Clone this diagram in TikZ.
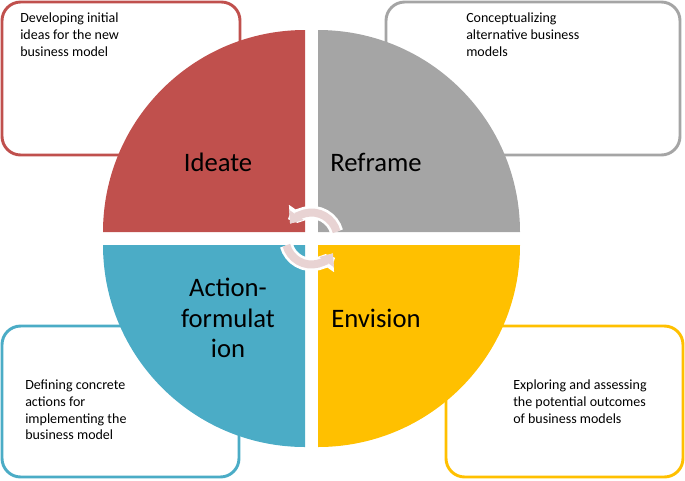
\documentclass[tikz,border=0pt]{standalone}
\usepackage{fontspec}
\setmainfont{Carlito}
\usetikzlibrary{arrows.meta}
\definecolor{cred}{HTML}{C0504D}
\definecolor{cgray}{HTML}{A5A5A5}
\definecolor{cblue}{HTML}{4BACC6}
\definecolor{cyel}{HTML}{FFC000}
\definecolor{carr}{HTML}{E8D3D3}
\begin{document}
\begin{tikzpicture}[x=0.75pt,y=-0.75pt,
  boxst/.style={line width=2.2pt,rounded corners=14pt,fill=white},
  desc/.style={align=left,font=\fontsize{10.5pt}{12.5pt}\selectfont,anchor=north west,inner sep=0pt},
  big/.style={font=\fontsize{20pt}{23pt}\selectfont,align=center},
  arr/.style={line width=6pt,-{Triangle[width=13pt,length=8pt]}}]
\useasboundingbox (0,0) rectangle (685,480);
\draw[boxst,draw=cred] (2,2) rectangle (240,155);
\draw[boxst,draw=cgray] (386,2) rectangle (680,155);
\draw[boxst,draw=cblue] (2,326) rectangle (239,477);
\draw[boxst,draw=cyel] (446,326) rectangle (683,477);
\node[desc] (t1) at (20,13) {Developing initial\\ideas for the new\\business model};
\node[desc] (t2) at (466,13) {Conceptualizing\\alternative business\\models};
\node[desc] (t3) at (25,380) {Defining concrete\\actions for\\implementing the\\business model};
\node[desc] (t4) at (513,380) {Exploring and assessing\\the potential outcomes\\of business models};
\fill[cred] (305,232) -- (103,232) arc[start angle=180,end angle=90,radius=202*0.75pt] -- cycle;
\fill[cgray] (318,232) -- (318,30) arc[start angle=90,end angle=0,radius=202*0.75pt] -- cycle;
\fill[cblue] (305,245) -- (305,447) arc[start angle=270,end angle=180,radius=202*0.75pt] -- cycle;
\fill[cyel] (318,245) -- (520,245) arc[start angle=0,end angle=-90,radius=202*0.75pt] -- cycle;
\node[big] (q1) at (218,162) {Ideate};
\node[big] (q2) at (376,162) {Reframe};
\node[big] (q3) at (228,318) {Action-\\formulat\\ion};
\node[big] (q4) at (376,318) {Envision};
\coordinate (c) at (311.5,238.5);
\foreach \a/\b in {195/325,15/145}{
  \draw[white,line width=10pt,-{Triangle[width=17pt,length=11pt]}] (c) ++(\a:-26*0.75pt) arc[start angle=\a+180,end angle=\b+180,radius=26*0.75pt];
}
\foreach \a/\b in {195/325,15/145}{
  \draw[carr,arr] (c) ++(\a:-26*0.75pt) arc[start angle=\a+180,end angle=\b+180,radius=26*0.75pt];
}
\end{tikzpicture}
\end{document}
